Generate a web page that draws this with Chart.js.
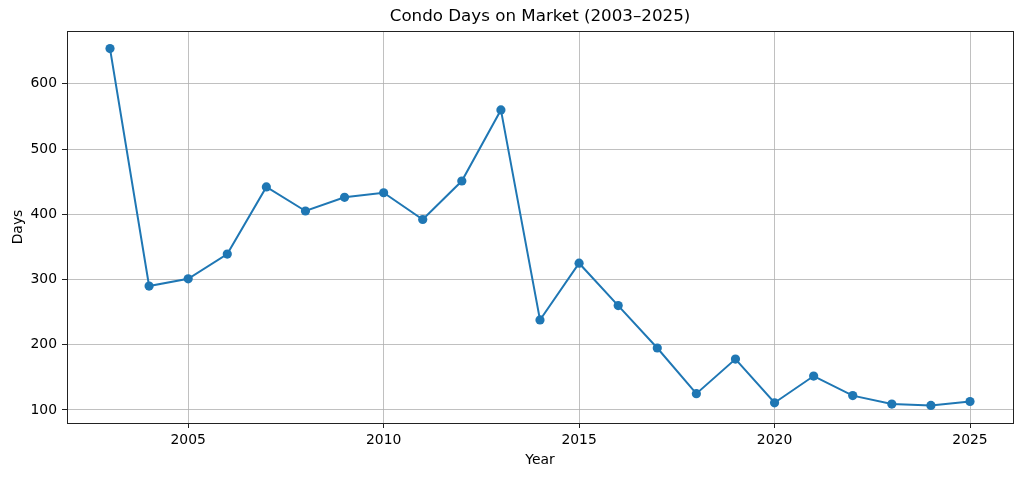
<!DOCTYPE html>
<html>
<head>
<meta charset="utf-8">
<script src="https://cdn.jsdelivr.net/npm/chart.js@4"></script>
<style>
  body { margin: 0; background: #fff; }
  #wrap { width: 1024px; height: 478px; }
</style>
</head>
<body>
<div id="wrap"><canvas id="chart"></canvas></div>
<script>
// donnees
var annees = [2003, 2004, 2005, 2006, 2007, 2008, 2009, 2010, 2011, 2012, 2013, 2014,
              2015, 2016, 2017, 2018, 2019, 2020, 2021, 2022, 2023, 2024, 2025];
var jours = [654, 290, 301, 339, 442, 405, 426, 433, 392, 451, 560, 238,
             325, 260, 195, 125, 178, 111, 152, 122, 109, 107, 113];
var ticksX = [2005, 2010, 2015, 2020, 2025];
var ticksY = [100, 200, 300, 400, 500, 600];
var titre = 'Condo Days on Market (2003\u20132025)';

var police = "'DejaVu Sans', sans-serif";

// cadre autour de la zone du graphe + titre centre sur la zone (comme matplotlib)
var cadre = {
  id: 'cadre',
  afterDatasetsDraw: function(chart) {
    var a = chart.chartArea, ctx = chart.ctx;
    ctx.save();
    ctx.strokeStyle = '#222';
    ctx.lineWidth = 1;
    ctx.strokeRect(Math.round(a.left) + 0.5, Math.round(a.top) + 0.5,
                   Math.round(a.right - a.left), Math.round(a.bottom - a.top));
    ctx.fillStyle = '#000';
    ctx.font = '16.7px ' + police;
    ctx.textAlign = 'center';
    ctx.textBaseline = 'middle';
    ctx.fillText(titre, (a.left + a.right) / 2, 16.5);
    ctx.restore();
  }
};

var points = [];
for (var i = 0; i < annees.length; i++) {
  points.push({x: annees[i], y: jours[i]});
}

new Chart(document.getElementById('chart'), {
  type: 'line',
  data: {
    datasets: [{
      label: 'Days',
      data: points,
      borderColor: '#1f77b4',
      backgroundColor: '#1f77b4',
      borderWidth: 2,
      pointRadius: 4.6,
      pointBorderWidth: 0,
      pointBackgroundColor: '#1f77b4',
      tension: 0
    }]
  },
  options: {
    responsive: true,
    maintainAspectRatio: false,
    animation: false,
    layout: { padding: { top: 31, right: 11, bottom: 0, left: 0 } },
    plugins: {
      legend: { display: false },
      tooltip: { enabled: false },
      title: { display: false }
    },
    scales: {
      x: {
        type: 'linear',
        min: 2001.9,
        max: 2026.1,
        afterBuildTicks: function(s) { s.ticks = ticksX.map(function(v) { return {value: v}; }); },
        afterFit: function(s) { s.height = 55; },
        border: { display: false },
        grid: { color: '#b0b0b0', lineWidth: 0.8, tickColor: '#222', tickLength: 5, tickWidth: 1 },
        ticks: {
          color: '#000',
          font: { family: police, size: 13.9 },
          padding: 4,
          maxRotation: 0,
          callback: function(v) { return String(v); }
        },
        title: {
          display: true,
          text: 'Year',
          color: '#000',
          font: { family: police, size: 13.9 },
          padding: { top: 0, bottom: 9.7 }
        }
      },
      y: {
        min: 80,
        max: 681,
        afterBuildTicks: function(s) { s.ticks = ticksY.map(function(v) { return {value: v}; }); },
        afterFit: function(s) { s.width = 67; },
        border: { display: false },
        grid: { color: '#b0b0b0', lineWidth: 0.8, tickColor: '#222', tickLength: 5, tickWidth: 1 },
        ticks: {
          color: '#000',
          font: { family: police, size: 13.9 },
          padding: 5,
          callback: function(v) { return String(v); }
        },
        title: {
          display: true,
          text: 'Days',
          color: '#000',
          font: { family: police, size: 13.9 },
          padding: { top: 9.7, bottom: 0 }
        }
      }
    }
  },
  plugins: [cadre]
});
</script>
</body>
</html>
